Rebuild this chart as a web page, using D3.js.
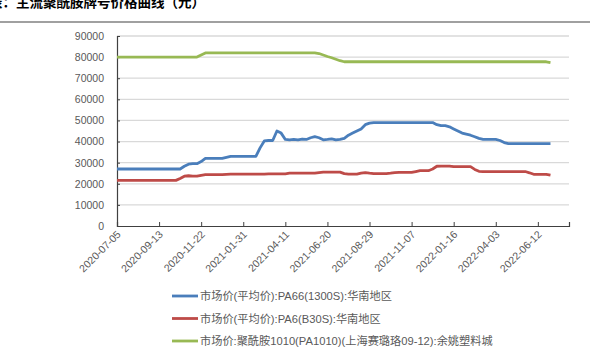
<!DOCTYPE html>
<html>
<head>
<meta charset="utf-8">
<script src="https://cdn.jsdelivr.net/npm/d3@7"></script>
<style>
    body { margin: 0; background: #fff; }
    svg { display: block; font-family: "Liberation Sans", "Noto Sans CJK SC", sans-serif; }
</style>
</head>
<body>
<svg id="chart" width="592" height="355"></svg>
<script>
"use strict";
//  Data  ---
var title = "表：主流聚酰胺牌号价格曲线（元）";
var tickLabels = ["2020-07-05", "2020-09-13", "2020-11-22", "2021-01-31", "2021-04-11", "2021-06-20",
    "2021-08-29", "2021-11-07", "2022-01-16", "2022-04-03", "2022-06-12"];
var seriesNames = [
    "市场价(平均价):PA66(1300S):华南地区",
    "市场价(平均价):PA6(B30S):华南地区",
    "市场价:聚酰胺1010(PA1010)(上海赛璐珞09-12):余姚塑料城"
];
var pa66 = [
    27000, 27000, 27000, 27000, 27000, 27000, 27000, 27000, 27000, 27000,
    27000, 27000, 27000, 27000, 27000, 27000, 28300, 29300, 29500, 29500,
    30500, 32000, 32000, 32000, 32000, 32000, 32500, 33000, 33000, 33000,
    33000, 33000, 33000, 33000, 37000, 40300, 40500, 40500, 45000, 44000,
    41000, 40800, 41000, 40800, 41200, 41000, 41800, 42300, 41800, 40800,
    41000, 41300, 40800, 41000, 41500, 43000, 44000, 45000, 46000, 48000,
    48700, 49000, 49000, 49000, 49000, 49000, 49000, 49000, 49000, 49000,
    49000, 49000, 49000, 49000, 49000, 49000, 48000, 47500, 47500, 47000,
    46000, 45000, 44000, 43500, 43000, 42300, 41500, 41000, 41000, 41000,
    41000, 40500, 39500, 39000, 39000, 39000, 39000, 39000, 39000, 39000,
    39000, 39000, 39000, 39000
];
var pa6 = [
    21600, 21600, 21600, 21600, 21600, 21600, 21600, 21600, 21600, 21600,
    21600, 21600, 21600, 21600, 21600, 22500, 23600, 23800, 23600, 23600,
    24000, 24300, 24300, 24300, 24300, 24300, 24500, 24600, 24600, 24600,
    24600, 24600, 24600, 24600, 24600, 24600, 24700, 24700, 24700, 24700,
    24700, 25000, 25000, 25000, 25000, 25000, 25000, 25000, 25300, 25500,
    25500, 25500, 25500, 25500, 24800, 24600, 24600, 24600, 25000, 25300,
    25000, 24800, 24800, 24800, 24800, 25000, 25300, 25400, 25400, 25400,
    25400, 25800, 26200, 26200, 26200, 27000, 28300, 28400, 28400, 28400,
    28100, 28100, 28100, 28100, 28100, 26800, 25900, 25800, 25800, 25800,
    25800, 25800, 25800, 25800, 25800, 25800, 25800, 25800, 25200, 24500,
    24500, 24500, 24500, 24100
];
var pa1010 = [
    80000, 80000, 80000, 80000, 80000, 80000, 80000, 80000, 80000, 80000,
    80000, 80000, 80000, 80000, 80000, 80000, 80000, 80000, 80000, 80000,
    81000, 82000, 82000, 82000, 82000, 82000, 82000, 82000, 82000, 82000,
    82000, 82000, 82000, 82000, 82000, 82000, 82000, 82000, 82000, 82000,
    82000, 82000, 82000, 82000, 82000, 82000, 82000, 82000, 81700, 81000,
    80300, 79700, 79000, 78300, 77800, 77800, 77800, 77800, 77800, 77800,
    77800, 77800, 77800, 77800, 77800, 77800, 77800, 77800, 77800, 77800,
    77800, 77800, 77800, 77800, 77800, 77800, 77800, 77800, 77800, 77800,
    77800, 77800, 77800, 77800, 77800, 77800, 77800, 77800, 77800, 77800,
    77800, 77800, 77800, 77800, 77800, 77800, 77800, 77800, 77800, 77800,
    77800, 77800, 77800, 77400
];
var colors = ["#4a7ebb", "#be4b48", "#98b954"];

(function () {
    //  Layout  ---
    var svg = d3.select("#chart");
    var plotLeft = 117, plotRight = 569, plotTop = 36, plotBottom = 226;

    svg.append("text")
        .attr("x", -11)
        .attr("y", 7)
        .attr("font-size", "13.5px")
        .attr("font-weight", "bold")
        .attr("font-family", "'Noto Sans CJK SC', sans-serif")
        .attr("fill", "#000")
        .text(title);

    svg.append("line")
        .attr("x1", 0).attr("x2", 590)
        .attr("y1", 22).attr("y2", 22)
        .attr("stroke", "#808080")
        .attr("stroke-width", 1.3);

    var x = d3.scaleLinear().domain([0, 107.4]).range([plotLeft, plotRight]);
    var y = d3.scaleLinear().domain([0, 90000]).range([plotBottom, plotTop]);

    //  Grid  ---
    svg.append("g")
        .selectAll("line")
        .data(y.ticks(9).filter(function (d) { return d > 0; }))
        .enter().append("line")
        .attr("x1", plotLeft).attr("x2", plotRight)
        .attr("y1", function (d) { return y(d); })
        .attr("y2", function (d) { return y(d); })
        .attr("stroke", "#d9d9d9")
        .attr("stroke-width", 1.3);

    //  Axes  ---
    var yAxis = svg.append("g")
        .attr("transform", "translate(" + plotLeft + ",0)")
        .call(d3.axisLeft(y).ticks(9).tickSize(-3).tickPadding(13).tickFormat(d3.format("d")));
    yAxis.selectAll("text").attr("font-size", "10.5px").attr("fill", "#595959");

    var tickIdx = tickLabels.map(function (d, i) { return i * 10; });
    var xAxis = svg.append("g")
        .attr("transform", "translate(0," + plotBottom + ")")
        .call(d3.axisBottom(x).tickValues(tickIdx).tickSize(-4).tickFormat(function (d, i) { return tickLabels[i]; }));
    xAxis.selectAll("text")
        .attr("font-size", "10.5px")
        .attr("fill", "#595959")
        .attr("text-anchor", "end")
        .attr("dy", null)
        .attr("y", 0)
        .attr("transform", "translate(4,9) rotate(-45)");

    svg.selectAll(".domain").attr("stroke", "#404040").attr("stroke-width", 1.2);
    svg.selectAll(".tick line").attr("stroke", "#404040");

    //  Lines  ---
    var line = d3.line()
        .x(function (d, i) { return x(i); })
        .y(function (d) { return y(d); });

    [pa66, pa6, pa1010].forEach(function (s, k) {
        svg.append("path")
            .datum(s)
            .attr("d", line)
            .attr("fill", "none")
            .attr("stroke", colors[k])
            .attr("stroke-width", 2.8)
            .attr("stroke-linejoin", "round");
    });

    //  Legend  ---
    var legend = svg.append("g").selectAll("g")
        .data(seriesNames)
        .enter().append("g")
        .attr("transform", function (d, i) { return "translate(172," + (296 + i * 22.5) + ")"; });
    legend.append("line")
        .attr("x1", 0).attr("x2", 26)
        .attr("stroke", function (d, i) { return colors[i]; })
        .attr("stroke-width", 2.8);
    legend.append("text")
        .attr("x", 28)
        .attr("y", 4)
        .attr("font-size", "11.2px")
        .attr("fill", "#595959")
        .text(function (d) { return d; });
}());
</script>
</body>
</html>
